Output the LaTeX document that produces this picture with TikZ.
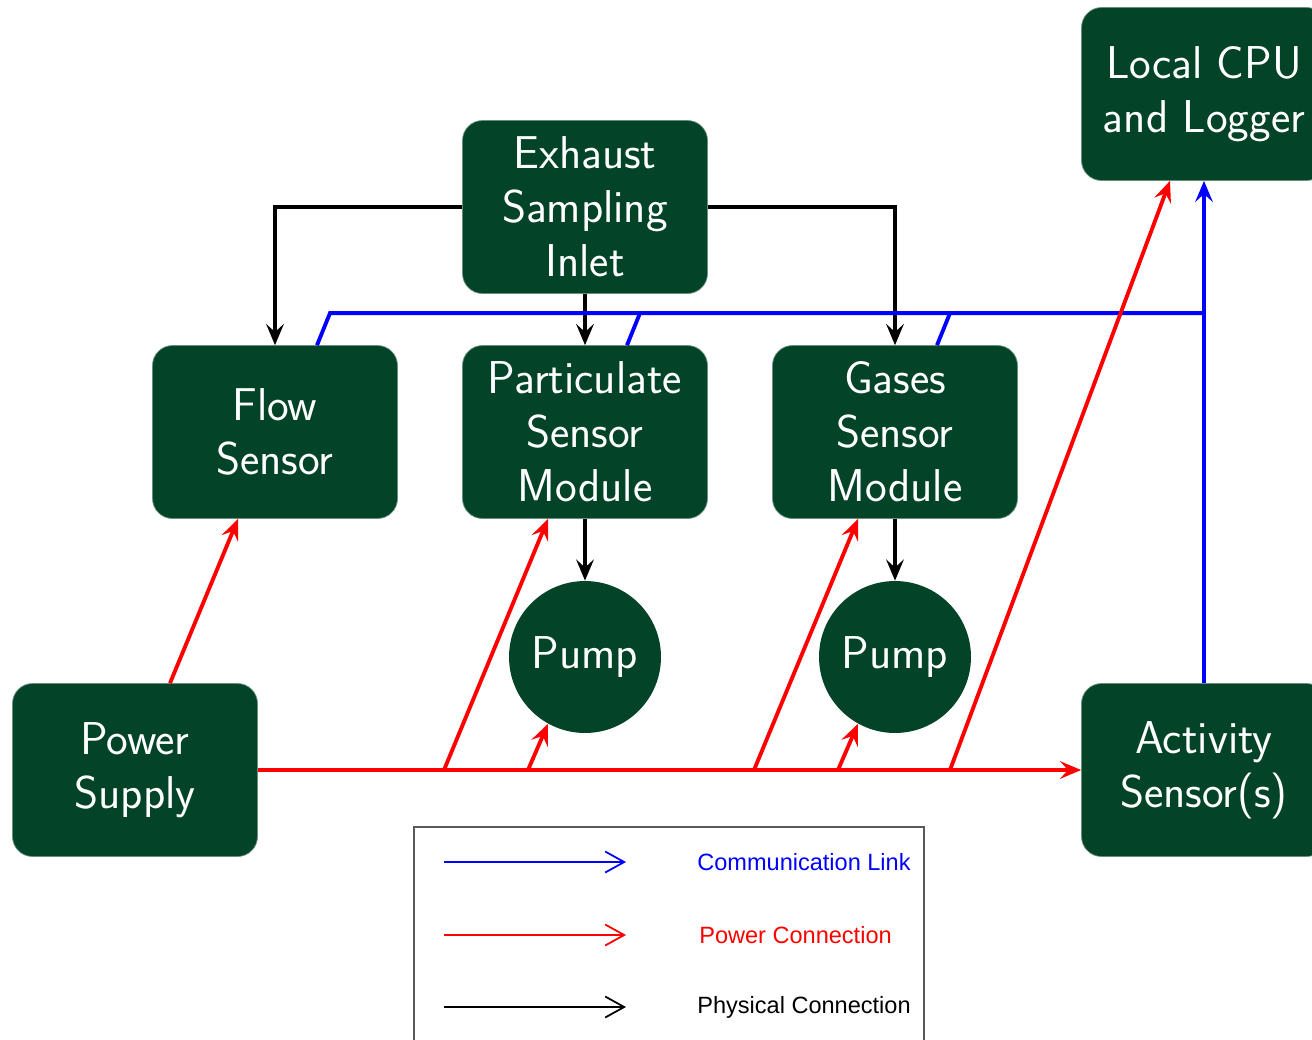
\documentclass[tikz,border=0pt]{standalone}
\usepackage{fontspec}
\newfontfamily\legendfont{Liberation Sans}
\usetikzlibrary{arrows.meta,calc}
\definecolor{boxgreen}{HTML}{034428}
\tikzset{
  block/.style={fill=boxgreen, draw=boxgreen!60!white, line width=0.4pt, rounded corners=0.4cm,
    minimum width=4.9cm, minimum height=3.46cm, text=white, align=center,
    font=\sffamily\fontsize{26.2}{30.7}\selectfont},
  pumpnode/.style={circle, fill=boxgreen, minimum size=3.04cm, inner sep=0pt, text=white,
    font=\sffamily\fontsize{26.2}{30.7}\selectfont},
  tip/.style={-{Stealth[length=12pt,width=10pt,inset=4.5pt]}},
  phys/.style={tip, draw=black, line width=2pt},
  power/.style={tip, draw=red, line width=2.2pt},
  comm/.style={draw=blue, line width=2.2pt},
  legline/.style={line width=1pt, -{Straight Barb[length=0.38cm,width=0.42cm,line width=1pt]}},
  legtext/.style={anchor=west, font=\legendfont\fontsize{13.4}{16}\selectfont, inner sep=0pt}
}
\begin{document}
\begin{tikzpicture}[x=0.02cm, y=-0.02cm]
\useasboundingbox (0,0) rectangle (1312,1039);

% blocks
\node[block] (exhaust) at (585,207) {Exhaust\\Sampling\\Inlet};
\node[block] (flow) at (275,432) {Flow\\Sensor};
\node[block] (part) at (585,432) {Particulate\\Sensor\\Module};
\node[block] (gases) at (895,432) {Gases\\Sensor\\Module};
\node[pumpnode] (pump1) at (585,657) {Pump};
\node[pumpnode] (pump2) at (895,657) {Pump};
\node[block] (supply) at (135,770) {Power\\Supply};
\node[block] (activity) at (1204,770) {Activity\\Sensor(s)};
\node[block] (cpu) at (1204,94) {Local CPU\\and Logger};

% physical connections
\draw[phys] (exhaust.west) -| (flow.north);
\draw[phys] (exhaust.east) -| (gases.north);
\draw[phys] (exhaust.south) -- (part.north);
\draw[phys] (part.south) -- (pump1.north);
\draw[phys] (gases.south) -- (pump2.north);

% communication bus
\draw[comm, tip] (activity.north) -- (cpu.south);
\draw[comm, line join=miter] ([xshift=0.84cm]flow.north) -- ++(13,-32) coordinate (busstart)
  -- (busstart -| activity.north);
\draw[comm] ([xshift=0.84cm]part.north) -- ++(13,-32);
\draw[comm] ([xshift=0.84cm]gases.north) -- ++(13,-32);

% power distribution
\coordinate (p1) at (444,770);
\coordinate (p2) at (528,770);
\coordinate (p3) at (754,770);
\coordinate (p4) at (838,770);
\coordinate (p5) at (950,770);
\draw[power] (supply.east) -- (activity.west);
\draw[power] ([xshift=0.7cm]supply.north) -- ([xshift=-0.74cm]flow.south);
\draw[power] (p1) -- ([xshift=-0.74cm]part.south);
\draw[power] (p2) -- (pump1.-119);
\draw[power] (p3) -- ([xshift=-0.74cm]gases.south);
\draw[power] (p4) -- (pump2.-119);
\draw[power] (p5) -- ([xshift=-0.68cm]cpu.south);

% legend
\draw[gray!70!black, line width=0.6pt] (414,1060) -- (414,827) -- (924,827) -- (924,1060);
\coordinate (l1) at (444,862);
\coordinate (l2) at (444,935);
\coordinate (l3) at (444,1007);
\draw[legline, blue] (l1) -- ++(182,0);
\draw[legline, red] (l2) -- ++(182,0);
\draw[legline, black] (l3) -- ++(182,0);
\node[legtext, text=blue] (t1) at (697,862) {Communication Link};
\node[legtext, text=red] (t2) at (699,935) {Power Connection};
\node[legtext, text=black] (t3) at (697,1007) {Physical Connection};
\end{tikzpicture}
\end{document}
